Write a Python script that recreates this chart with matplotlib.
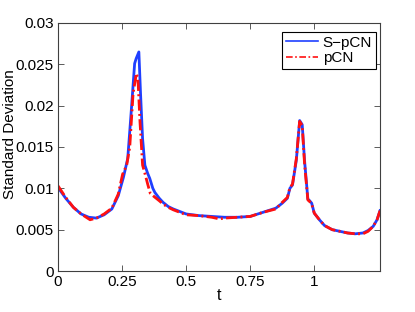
import matplotlib
matplotlib.use('Agg')
import matplotlib.pyplot as plt
from matplotlib.lines import Line2D

plt.rcParams['font.family'] = ['Liberation Sans', 'DejaVu Sans']

# S-pCN curve
t_s = [0, 0.03, 0.06, 0.09, 0.12, 0.15, 0.18, 0.21, 0.235, 0.255, 0.272, 0.285,
       0.299, 0.305, 0.3155, 0.322, 0.33, 0.339, 0.35, 0.358, 0.37, 0.378, 0.395,
       0.41, 0.43, 0.45, 0.5, 0.55, 0.6, 0.65, 0.7, 0.75, 0.8, 0.85, 0.875, 0.895,
       0.905, 0.915, 0.93, 0.943, 0.953, 0.962, 0.975, 0.982, 0.99, 1.0, 1.02,
       1.04, 1.07, 1.1, 1.13, 1.16, 1.19, 1.21, 1.23, 1.245, 1.2566]
sd_s = [0.0101, 0.0088, 0.0077, 0.0069, 0.0065, 0.0064, 0.0068, 0.0075, 0.0091,
        0.0113, 0.0136, 0.0190, 0.0251, 0.0257, 0.0265, 0.0215, 0.0160, 0.0128,
        0.0118, 0.0112, 0.0100, 0.0095, 0.0088, 0.0083, 0.0078, 0.0075, 0.0069,
        0.0067, 0.0066, 0.0065, 0.0065, 0.0066, 0.0071, 0.0076, 0.0082, 0.0088,
        0.0100, 0.0104, 0.0134, 0.0182, 0.0177, 0.0134, 0.0087, 0.0085, 0.0082,
        0.0070, 0.0062, 0.0055, 0.0050, 0.0048, 0.0046, 0.0045, 0.0046, 0.0049,
        0.0054, 0.0062, 0.0073]

# pCN curve
t_p = [0, 0.03, 0.06, 0.09, 0.125, 0.15, 0.18, 0.21, 0.235, 0.252, 0.268, 0.28,
       0.293, 0.306, 0.312, 0.32, 0.33, 0.34, 0.35, 0.36, 0.375, 0.395, 0.41,
       0.43, 0.45, 0.5, 0.55, 0.6, 0.63, 0.65, 0.7, 0.75, 0.8, 0.85, 0.875, 0.895,
       0.905, 0.915, 0.93, 0.943, 0.953, 0.962, 0.975, 0.982, 0.99, 1.0, 1.02,
       1.04, 1.07, 1.1, 1.13, 1.16, 1.19, 1.21, 1.23, 1.245, 1.2566]
sd_p = [0.0103, 0.0089, 0.0077, 0.0069, 0.0062, 0.0064, 0.0069, 0.0076, 0.0093,
        0.0117, 0.0128, 0.0150, 0.0215, 0.0239, 0.0232, 0.0180, 0.0128, 0.0117,
        0.0105, 0.0094, 0.0090, 0.0085, 0.0081, 0.0077, 0.0074, 0.0068, 0.0067,
        0.0065, 0.0063, 0.0064, 0.0065, 0.0066, 0.0071, 0.0075, 0.0083, 0.0089,
        0.0101, 0.0105, 0.0136, 0.0181, 0.0176, 0.0130, 0.0086, 0.0084, 0.0081,
        0.0070, 0.0062, 0.0055, 0.0050, 0.0048, 0.0046, 0.0045, 0.0045, 0.0048,
        0.0054, 0.0062, 0.0073]

xticks = [0, 0.25, 0.5, 0.75, 1]
xtick_labels = ['0', '0.25', '0.5', '0.75', '1']
yticks = [0, 0.005, 0.01, 0.015, 0.02, 0.025, 0.03]
ytick_labels = ['0', '0.005', '0.01', '0.015', '0.02', '0.025', '0.03']

fig = plt.figure(figsize=(4.15, 3.12), dpi=100)
ax = fig.add_axes([0.1398, 0.1314, 0.7759, 0.7949])

blue = '#1f3fff'
red = '#ff1010'
ax.plot(t_s, sd_s, color=blue, lw=2.0)
ax.plot(t_p, sd_p, color=red, lw=2.0, linestyle=(0, (4, 1.2, 0.7, 1.2)))

ax.set_xlim(0, 1.2566)
ax.set_ylim(0, 0.03)
ax.set_xticks(xticks)
ax.set_xticklabels(xtick_labels)
ax.set_yticks(yticks)
ax.set_yticklabels(ytick_labels)

edge = '#404040'
for s in ax.spines.values():
    s.set_color(edge)
    s.set_linewidth(0.8)
ax.tick_params(direction='in', top=True, right=True, length=4, width=0.6,
               color=edge, labelsize=11, pad=3)
ax.set_xlabel('t', fontsize=11.5, labelpad=-1)
ax.set_ylabel('Standard Deviation', fontsize=11)
ax.yaxis.set_label_coords(-0.128, 0.552)

handles = [Line2D([], [], color=blue, lw=1.2),
           Line2D([], [], color=red, lw=1.2, linestyle=(0, (4, 1.5, 1, 1.5)))]
leg = ax.legend(handles, ['S\u2212pCN', 'pCN'], loc='upper right',
                bbox_to_anchor=(0.9876, 0.9637), fontsize=11,
                fancybox=False, framealpha=1, edgecolor='black',
                borderaxespad=0, handlelength=2.1, handletextpad=0.3,
                labelspacing=0.1, borderpad=0.25)
leg.get_frame().set_linewidth(0.8)

fig.savefig('out.png', dpi=100)
